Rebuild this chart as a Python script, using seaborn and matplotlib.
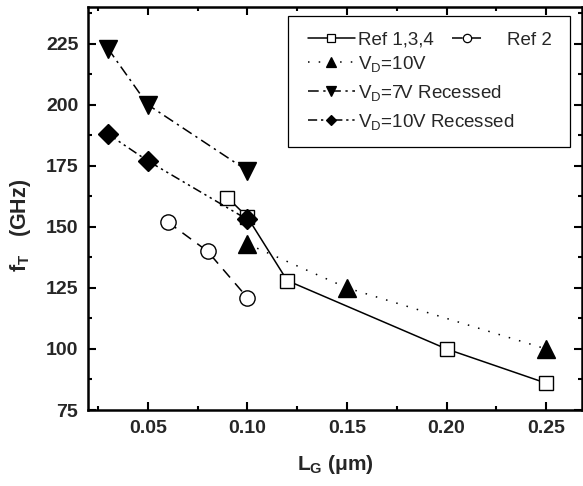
import numpy as np
import pandas as pd
import matplotlib
matplotlib.use("Agg")
import matplotlib.pyplot as plt
from matplotlib.lines import Line2D
from matplotlib.patches import Rectangle
from matplotlib.ticker import MultipleLocator, FormatStrFormatter
import seaborn as sns

# ---- data ----
ref134_x = [0.09, 0.10, 0.12, 0.20, 0.25]
ref134_y = [162, 154, 128, 100, 86]
ref2_x = [0.06, 0.08, 0.10]
ref2_y = [152, 140, 121]
vd10_x = [0.10, 0.15, 0.25]
vd10_y = [143, 125, 100]
vd7r_x = [0.03, 0.05, 0.10]
vd7r_y = [223, 200, 173]
vd10r_x = [0.03, 0.05, 0.10]
vd10r_y = [188, 177, 153]

x_ticks = [0.05, 0.10, 0.15, 0.20, 0.25]
y_ticks = [75, 100, 125, 150, 175, 200, 225]

sns.set_theme(style="ticks")
plt.rcParams['font.family'] = ['Liberation Sans', 'DejaVu Sans']
plt.rcParams['mathtext.fontset'] = 'custom'
plt.rcParams['mathtext.rm'] = 'Liberation Sans'
plt.rcParams['mathtext.bf'] = 'Liberation Sans:bold'
plt.rcParams['mathtext.it'] = 'Liberation Sans:italic'

fig = plt.figure(figsize=(5.83, 4.86), dpi=100)
ax = fig.add_axes([88/583, 76/486, (582-88)/583, (410-7)/486])

lw = 1.1
styles = {
    'ref134': dict(linestyle='-', marker='s', markersize=10, markerfacecolor='white'),
    'ref2': dict(linestyle=(0, (7, 5)), marker='o', markersize=11, markerfacecolor='white'),
    'vd10': dict(linestyle=(0, (1, 6)), marker='^', markersize=13, markerfacecolor='black'),
    'vd7r': dict(linestyle=(0, (7, 3, 1.5, 3)), marker='v', markersize=13, markerfacecolor='black'),
    'vd10r': dict(linestyle=(0, (6, 2.5, 1.5, 2.5, 1.5, 2.5)), marker='D', markersize=10, markerfacecolor='black'),
}
series = [
    ('ref134', ref134_x, ref134_y),
    ('ref2', ref2_x, ref2_y),
    ('vd10', vd10_x, vd10_y),
    ('vd7r', vd7r_x, vd7r_y),
    ('vd10r', vd10r_x, vd10r_y),
]
for key, xs, ys in series:
    df = pd.DataFrame({'x': xs, 'y': ys})
    st = styles[key]
    sns.lineplot(data=df, x='x', y='y', ax=ax, sort=False, color='black',
                 linewidth=lw, linestyle=st['linestyle'], marker=st['marker'],
                 markersize=st['markersize'], markerfacecolor=st['markerfacecolor'],
                 markeredgecolor='black', markeredgewidth=1.0, legend=False, clip_on=False)

ax.set_xlim(0.02, 0.268)
ax.set_ylim(75, 240)
ax.set_xticks(x_ticks)
ax.xaxis.set_minor_locator(MultipleLocator(0.025))
ax.set_yticks(y_ticks)
ax.yaxis.set_minor_locator(MultipleLocator(12.5))
ax.xaxis.set_major_formatter(FormatStrFormatter('%.2f'))

for s in ax.spines.values():
    s.set_linewidth(1.8)
    s.set_color('black')
    s.set_visible(True)
ax.tick_params(which='both', direction='in', top=True, right=True, color='black')
ax.tick_params(which='major', length=5.5, width=1.5, labelsize=14, pad=7)
ax.tick_params(which='minor', length=3, width=1.5)
for lab in ax.get_xticklabels() + ax.get_yticklabels():
    lab.set_fontweight('bold')

ax.set_xlabel(r'L$_\mathbf{G}$ ($\mathbf{\mu}$m)', fontsize=15, fontweight='bold', labelpad=12)
ax.set_ylabel(r'f$_\mathbf{T}$   (GHz)', fontsize=15.5, fontweight='bold')
ax.yaxis.set_label_coords(-0.111, 0.459)

# ---- legend ----
def handle(key, ms):
    st = styles[key]
    return Line2D([], [], color='black', linewidth=lw, linestyle=st['linestyle'],
                  marker=st['marker'], markersize=ms, markerfacecolor=st['markerfacecolor'],
                  markeredgecolor='black', markeredgewidth=0.9)

fs = 13.5
W, H = 583, 486
def fig_xy(px, py):
    return (px / W, 1 - py / H)

legA = ax.legend([handle('ref134', 5.5)], ['Ref 1,3,4'], loc='center left',
                 bbox_to_anchor=fig_xy(308, 40), bbox_transform=fig.transFigure,
                 frameon=False, fontsize=fs, handlelength=2.5, handletextpad=0.16,
                 borderpad=0, borderaxespad=0)
ax.add_artist(legA)
legB = ax.legend([handle('ref2', 6)], ['Ref 2'], loc='center left',
                 bbox_to_anchor=fig_xy(452, 40), bbox_transform=fig.transFigure,
                 frameon=False, fontsize=fs, handlelength=1.6, handletextpad=1.33,
                 borderpad=0, borderaxespad=0)
ax.add_artist(legB)
legC = ax.legend([handle('vd10', 6.5), handle('vd7r', 6.5), handle('vd10r', 5.5)],
                 [r'V$_\mathregular{D}$=10V', r'V$_\mathregular{D}$=7V Recessed',
                  r'V$_\mathregular{D}$=10V Recessed'],
                 loc='upper left', bbox_to_anchor=fig_xy(308, 54), bbox_transform=fig.transFigure,
                 frameon=False, fontsize=fs, handlelength=2.5, handletextpad=0.16,
                 borderpad=0, borderaxespad=0, labelspacing=0.47)

fig.patches.append(Rectangle(fig_xy(288, 147), (570-288)/W, (147-16)/H,
                             transform=fig.transFigure, fill=False,
                             edgecolor='black', linewidth=0.9, zorder=5))

fig.savefig('out.png', dpi=100)
